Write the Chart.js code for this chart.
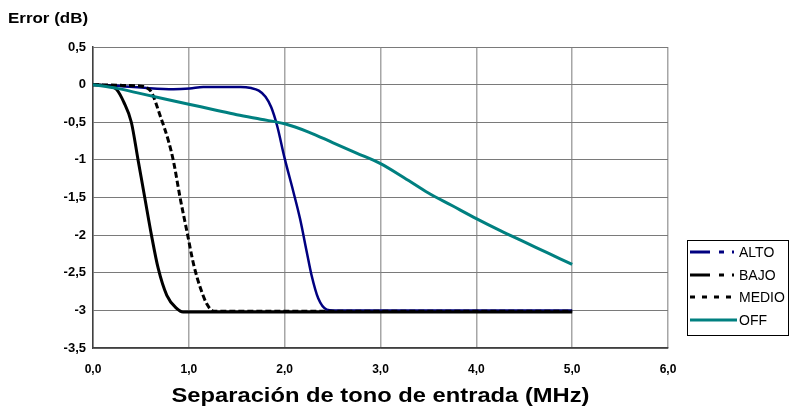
<!DOCTYPE html>
<html>
<head>
<meta charset="utf-8">
<script src="https://cdn.jsdelivr.net/npm/chart.js@4.4.1/dist/chart.umd.min.js"></script>
<style>
  html, body { margin: 0; padding: 0; background: #fff; }
  #wrap { position: relative; width: 799px; height: 409px; font-family: "Liberation Sans", Arial, sans-serif; }
  #chart { position: absolute; left: 0; top: 0; }
  #ytitle { position: absolute; left: 8px; top: 9px; font-weight: bold; font-size: 15px; transform: scaleX(1.13); transform-origin: left center; }
  #xtitle { position: absolute; left: 93px; width: 575px; top: 383px; text-align: center; font-weight: bold; font-size: 21px; transform: scaleX(1.13); transform-origin: center; }
  #legend { position: absolute; left: 687px; top: 240px; width: 102px; height: 96px; border: 1px solid #000; box-sizing: border-box; }
  #legend div { position: absolute; left: 2px; height: 20px; font-size: 14px; line-height: 20px; }
  #legend svg { position: absolute; left: 0; top: 0; }
  #legend span { position: absolute; left: 49px; top: 0; white-space: nowrap; }
</style>
</head>
<body>
<div id="wrap">
  <canvas id="chart" width="799" height="409"></canvas>
  <div id="ytitle">Error (dB)</div>
  <div id="xtitle">Separación de tono de entrada (MHz)</div>
  <div id="legend"></div>
</div>
<script>
// series names
const seriesNames = ['ALTO', 'BAJO', 'MEDIO', 'OFF'];

// ALTO
const altoX = [0, 0.3, 0.56, 0.84, 1.01, 1.15, 1.36, 1.54, 1.65, 1.73, 1.80, 1.86, 1.92, 2.0, 2.09, 2.16, 2.23, 2.28, 2.35, 2.44, 2.51, 3.0, 4.0, 5.0];
const altoY = [0, -0.02, -0.045, -0.06, -0.05, -0.03, -0.03, -0.03, -0.045, -0.08, -0.16, -0.3, -0.54, -0.98, -1.42, -1.78, -2.22, -2.53, -2.84, -2.99, -3.0, -3.0, -3.0, -3.0];

// BAJO
const bajoX = [0, 0.1, 0.2, 0.25, 0.32, 0.4, 0.47, 0.54, 0.61, 0.68, 0.77, 0.87, 0.94, 1.5, 2.0, 3.0, 4.0, 5.0];
const bajoY = [0, -0.01, -0.03, -0.07, -0.23, -0.5, -1.0, -1.5, -2.0, -2.44, -2.8, -2.97, -3.02, -3.02, -3.02, -3.02, -3.02, -3.02];

// MEDIO
const medioX = [0, 0.3, 0.5, 0.56, 0.61, 0.70, 0.79, 0.84, 0.91, 0.98, 1.05, 1.12, 1.19, 1.26, 1.5, 2.0, 3.0, 4.0, 5.0];
const medioY = [0, -0.01, -0.02, -0.04, -0.1, -0.41, -0.76, -1.02, -1.51, -1.95, -2.39, -2.70, -2.92, -3.01, -3.01, -3.01, -3.01, -3.01, -3.01];

// OFF
const offX = [0, 0.25, 0.5, 0.75, 1.0, 1.25, 1.5, 1.75, 2.0, 2.25, 2.5, 2.75, 3.0, 3.25, 3.5, 3.75, 4.0, 4.25, 4.5, 4.75, 5.0];
const offY = [0, -0.05, -0.12, -0.19, -0.26, -0.33, -0.40, -0.46, -0.52, -0.63, -0.77, -0.91, -1.05, -1.24, -1.44, -1.61, -1.78, -1.94, -2.09, -2.24, -2.39];

// axis tick labels
const xTickLabels = ['0,0', '1,0', '2,0', '3,0', '4,0', '5,0', '6,0'];
const yTickLabels = ['-3,5', '-3', '-2,5', '-2', '-1,5', '-1', '-0,5', '0', '0,5'];

const toPoints = (xs, ys) => xs.map((x, i) => ({ x: x, y: ys[i] }));

const styles = [
    { color: '#000080', width: 2.5, dash: [], legendDash: '20,9,5,8,2,20' },
    { color: '#000000', width: 3, dash: [], legendDash: '20,9,5,8,2,20' },
    { color: '#000000', width: 3, dash: [6, 3], legendDash: '5,7' },
    { color: '#008080', width: 3, dash: [], legendDash: '' },
];

const seriesData = [toPoints(altoX, altoY), toPoints(bajoX, bajoY), toPoints(medioX, medioY), toPoints(offX, offY)];

const datasets = seriesNames.map((name, i) => ({
    label: name,
    data: seriesData[i],
    borderColor: styles[i].color,
    borderWidth: styles[i].width,
    borderDash: styles[i].dash,
    pointRadius: 0,
    fill: false,
    cubicInterpolationMode: 'monotone',
    order: 4 - i,
}));

// legend box on the right
const legend = document.getElementById('legend');
seriesNames.forEach((name, i) => {
    const row = document.createElement('div');
    row.style.top = (1 + i * 22.5) + 'px';
    const dash = styles[i].legendDash ? ' stroke-dasharray="' + styles[i].legendDash + '"' : '';
    row.innerHTML = '<svg width="48" height="20"><line x1="0" y1="10" x2="47" y2="10" stroke="' +
        styles[i].color + '" stroke-width="3"' + dash + '/></svg><span>' + name + '</span>';
    legend.appendChild(row);
});

const fontFamily = '"Liberation Sans", Arial, sans-serif';

new Chart(document.getElementById('chart'), {
    type: 'line',
    data: { datasets: datasets },
    options: {
        responsive: false,
        animation: false,
        layout: { padding: { left: 0, right: 131, top: 47, bottom: 0 } },
        plugins: { legend: { display: false }, tooltip: { enabled: false } },
        scales: {
            x: {
                type: 'linear',
                min: 0,
                max: 6,
                afterFit: (s) => { s.height = 61; },
                ticks: {
                    stepSize: 1,
                    padding: 14,
                    color: '#000',
                    font: { family: fontFamily, size: 12, weight: 'bold' },
                    maxRotation: 0,
                    callback: (v) => xTickLabels[Math.round(v)],
                },
                grid: { color: '#a6a6a6', lineWidth: 1.5, drawTicks: false },
                border: { color: '#404040', width: 1.5 },
            },
            y: {
                min: -3.5,
                max: 0.5,
                afterFit: (s) => { s.width = 93; },
                ticks: {
                    stepSize: 0.5,
                    padding: 7,
                    color: '#000',
                    font: { family: fontFamily, size: 13, weight: 'bold' },
                    callback: (v) => yTickLabels[Math.round((v + 3.5) * 2)],
                },
                grid: { color: '#7a7a7a', lineWidth: 1, drawTicks: false },
                border: { color: '#404040', width: 1.5 },
            },
        },
    },
});
</script>
</body>
</html>
